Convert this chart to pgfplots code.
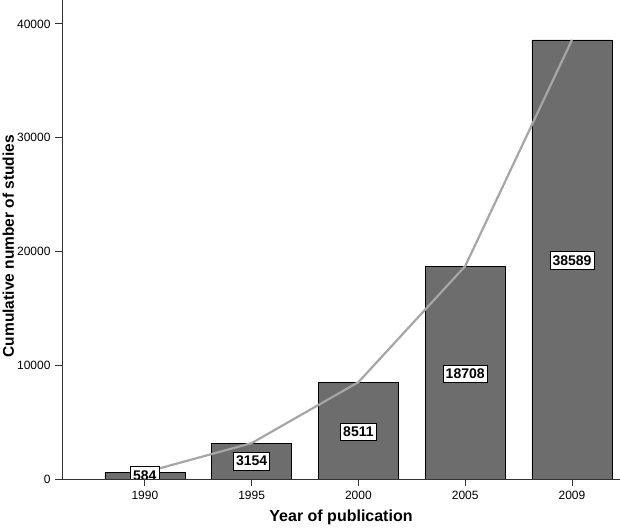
\documentclass[border=0pt]{standalone}
\usepackage{pgfplots}
\pgfplotsset{compat=1.18}
\usepackage{fontspec}
\setmainfont{Liberation Sans}
\definecolor{barfill}{HTML}{6D6D6D}
\definecolor{linegray}{HTML}{A6A6A6}
\begin{document}
\begin{tikzpicture}
\path[use as bounding box] (0,0) rectangle (620pt,527pt);
\begin{axis}[
  at={(62pt,48pt)}, anchor=south west,
  scale only axis, width=558pt, height=479pt,
  xmin=-0.776, xmax=4.45, ymin=0, ymax=42100,
  axis x line=bottom, axis y line=left,
  axis line style={-, draw=black!80, line width=0.8pt},
  xtick={0,1,2,3,4}, xticklabels={1990,1995,2000,2005,2009},
  ytick={0,10000,20000,30000,40000},
  scaled y ticks=false,
  yticklabel style={/pgf/number format/1000 sep={}, xshift=-1pt},
  xticklabel style={yshift=-2pt},
  /pgf/number format/assume math mode=true,
  tick style={draw=black!80, line width=0.8pt},
  tick align=outside, major tick length=7pt,
  ticklabel style={font=\fontsize{12}{14}\selectfont},
  xlabel={\textbf{Year of publication}},
  ylabel={\textbf{Cumulative number of studies}},
  xlabel style={font=\fontsize{16}{18}\selectfont, yshift=-3pt},
  ylabel style={font=\fontsize{15.5}{18}\selectfont, at={(axis description cs:-0.096,0.486)}, anchor=center},
  clip=true, clip marker paths=true, axis on top,
]
\addplot[ybar, bar width=80pt, bar shift=0pt, fill=barfill, draw=black, line width=0.6pt]
  coordinates {(0,584) (1,3154) (2,8511) (3,18708) (4,38589)};
\addplot[sharp plot, draw=linegray, line width=2.2pt, mark=none]
  coordinates {(0,584) (1,3154) (2,8511) (3,18708) (4,38589)};
\addplot[draw=none, mark=none, nodes near coords, point meta=explicit symbolic,
  nodes near coords style={fill=white, draw=black, line width=0.6pt, inner xsep=2.5pt, inner ysep=4pt,
    anchor=center, font=\fontsize{14}{16}\selectfont\bfseries}]
  table[meta=label] {
x y label
0 292 584
1 1577 3154
2 4150 8511
3 9250 18708
4 19200 38589
};
\end{axis}
\end{tikzpicture}
\end{document}
